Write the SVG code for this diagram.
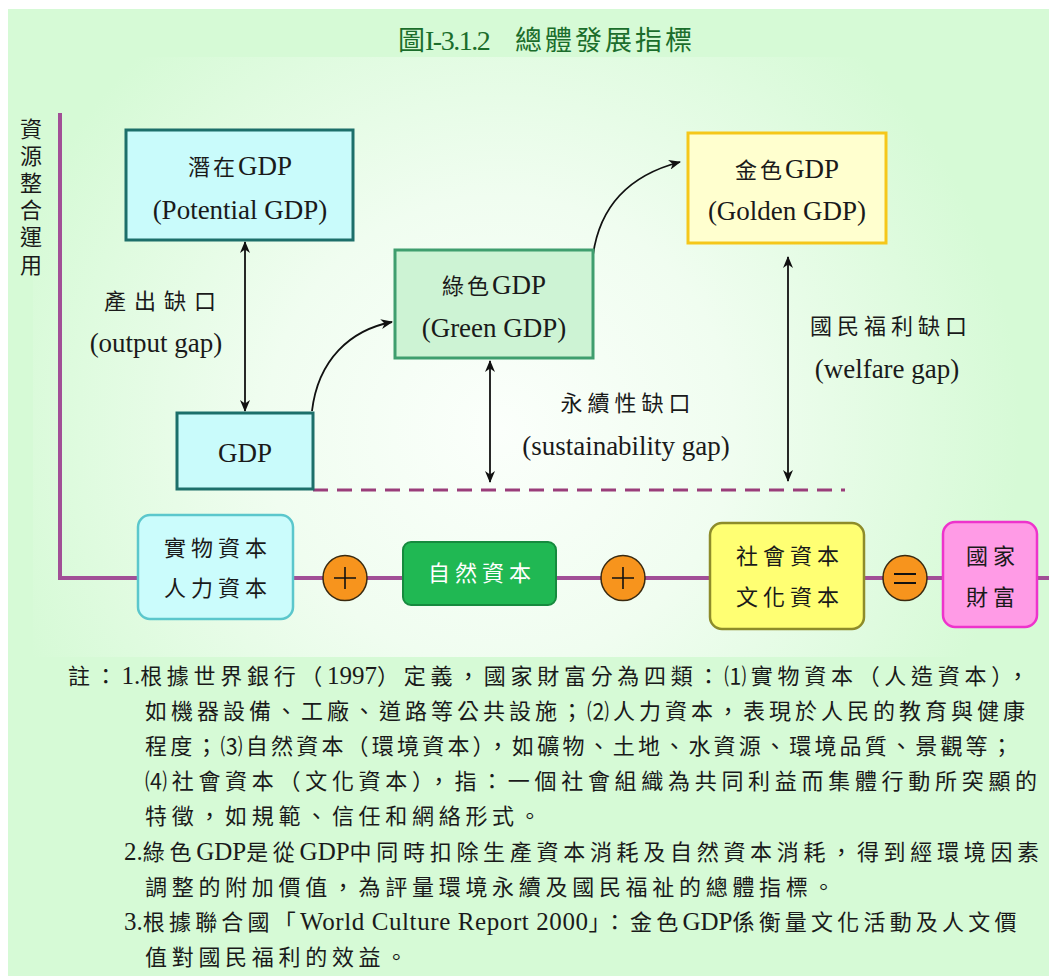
<svg xmlns="http://www.w3.org/2000/svg" width="1049" height="976" viewBox="0 0 1049 976">
<defs>
<radialGradient id="bg" cx="500" cy="430" r="520" gradientUnits="userSpaceOnUse">
<stop offset="0" stop-color="#fbfffb"/>
<stop offset="0.45" stop-color="#f0fdf0"/>
<stop offset="1" stop-color="#d6fad6"/>
</radialGradient>
<marker id="ah" viewBox="0 0 12 10" refX="11" refY="5" markerWidth="12" markerHeight="10" markerUnits="userSpaceOnUse" orient="auto-start-reverse">
<path d="M0,0 L12,5 L0,10 L3.5,5 z" fill="#111"/>
</marker>
<style>
.t{font-family:"Liberation Serif","Noto Sans CJK TC",serif;fill:#1a1a1a}
.cj{font-size:22px;letter-spacing:5px}
.lat{font-size:27px;letter-spacing:0}
.note{font-family:"Liberation Serif","Noto Sans CJK TC",serif;fill:#1a1a1a;font-size:22px;letter-spacing:4.7px}
.nl{font-size:25px;letter-spacing:0}
.box{stroke-width:3}
.pl{stroke:#111;stroke-width:1.6;fill:none}
.arr{stroke:#111;stroke-width:1.8;fill:none;marker-end:url(#ah)}
.darr{stroke:#111;stroke-width:1.8;fill:none;marker-end:url(#ah);marker-start:url(#ah)}
.circ{fill:#f7941d;stroke:#3a2a10;stroke-width:1.5}
</style>
</defs>
<rect x="0" y="0" width="1049" height="976" fill="#ffffff"/>
<rect x="8" y="9" width="1041" height="967" fill="#d6fad6"/>
<rect x="33" y="57" width="1016" height="600" fill="url(#bg)"/>

<g id="title">
<text class="t" y="50" style="fill:#1b6d2b"><tspan x="398" font-size="27">圖</tspan><tspan font-size="28" style="letter-spacing:-1.5px">I-3.1.2</tspan><tspan x="515" font-size="27" style="letter-spacing:3px">總體發展指標</tspan></text>
</g>

<g id="axis">
<path d="M60,113 V578 H1049" fill="none" stroke="#a14f96" stroke-width="4"/>
<text class="t" font-size="22" text-anchor="middle"><tspan x="31" y="137">資</tspan><tspan x="31" y="164">源</tspan><tspan x="31" y="191">整</tspan><tspan x="31" y="218">合</tspan><tspan x="31" y="245">運</tspan><tspan x="31" y="273">用</tspan></text>
</g>

<g id="connectors">
<line class="darr" x1="245" y1="242" x2="245" y2="411"/>
<line class="darr" x1="490" y1="361" x2="490" y2="482"/>
<line class="darr" x1="788" y1="257" x2="788" y2="481"/>
<path class="arr" d="M312,411 C318,360 350,330 392,322"/>
<path class="arr" d="M593,255 C600,205 630,175 680,162"/>
<line x1="313" y1="490" x2="845" y2="490" stroke="#9a3d7a" stroke-width="3" stroke-dasharray="15 9"/>
</g>

<g id="potential">
<rect class="box" x="126" y="130" width="227" height="110" fill="#c9fbfb" stroke="#1c6f6a"/>
<text class="t" x="240" y="175" text-anchor="middle"><tspan class="cj" style="letter-spacing:3px">潛在</tspan><tspan class="lat">GDP</tspan></text>
<text class="t lat" x="240" y="219" text-anchor="middle">(Potential GDP)</text>
</g>

<g id="gdp">
<rect class="box" x="177" y="413" width="136" height="76" fill="#c9fbfb" stroke="#1c6f6a"/>
<text class="t lat" x="245" y="462" text-anchor="middle">GDP</text>
</g>

<g id="green-gdp">
<rect class="box" x="395" y="250" width="198" height="108" fill="#cdf3d4" stroke="#3f9e6e"/>
<text class="t" x="494" y="294" text-anchor="middle"><tspan class="cj" style="letter-spacing:3px">綠色</tspan><tspan class="lat">GDP</tspan></text>
<text class="t lat" x="494" y="337" text-anchor="middle">(Green GDP)</text>
</g>

<g id="golden-gdp">
<rect class="box" x="688" y="133" width="198" height="110" fill="#ffffcf" stroke="#f5c71a"/>
<text class="t" x="787" y="178" text-anchor="middle"><tspan class="cj" style="letter-spacing:3px">金色</tspan><tspan class="lat">GDP</tspan></text>
<text class="t lat" x="787" y="220" text-anchor="middle">(Golden GDP)</text>
</g>

<g id="output-gap">
<text class="t cj" x="164" y="309" text-anchor="middle" style="letter-spacing:8px">產出缺口</text>
<text class="t lat" x="156" y="352" text-anchor="middle">(output gap)</text>
</g>

<g id="sustainability-gap">
<text class="t cj" x="628" y="411" text-anchor="middle">永續性缺口</text>
<text class="t lat" x="626" y="455" text-anchor="middle">(sustainability gap)</text>
</g>

<g id="welfare-gap">
<text class="t cj" x="891" y="334" text-anchor="middle">國民福利缺口</text>
<text class="t lat" x="887" y="378" text-anchor="middle">(welfare gap)</text>
</g>

<g id="physical-human-capital">
<rect x="138" y="515" width="155" height="104" rx="12" fill="#cbfcfc" stroke="#5bc7cc" stroke-width="2.5"/>
<text class="t cj" x="218" y="556" text-anchor="middle">實物資本</text>
<text class="t cj" x="218" y="596" text-anchor="middle">人力資本</text>
</g>

<g id="plus1">
<ellipse class="circ" cx="345" cy="578" rx="22" ry="22.5"/>
<path class="pl" d="M334,578 H356 M345,567 V589"/>
</g>

<g id="natural-capital">
<rect x="403" y="542" width="153" height="63" rx="8" fill="#20b853" stroke="#168a3e" stroke-width="2"/>
<text class="t cj" x="482" y="581" text-anchor="middle" style="fill:#ffffff">自然資本</text>
</g>

<g id="plus2">
<ellipse class="circ" cx="623" cy="578" rx="22" ry="22.5"/>
<path class="pl" d="M612,578 H634 M623,567 V589"/>
</g>

<g id="social-cultural-capital">
<rect x="710" y="523" width="154" height="106" rx="12" fill="#ffff73" stroke="#8e8c2a" stroke-width="2.5"/>
<text class="t cj" x="790" y="564" text-anchor="middle">社會資本</text>
<text class="t cj" x="790" y="605" text-anchor="middle">文化資本</text>
</g>

<g id="equals">
<ellipse class="circ" cx="905" cy="578" rx="22" ry="22.5"/>
<path d="M894,574 H916 M894,583 H916" stroke="#111" stroke-width="2.2" fill="none"/>
</g>

<g id="national-wealth">
<rect x="943" y="522" width="94" height="105" rx="12" fill="#ff9be6" stroke="#ee33cc" stroke-width="2.5"/>
<text class="t cj" x="993" y="564" text-anchor="middle">國家</text>
<text class="t cj" x="993" y="605" text-anchor="middle">財富</text>
</g>

<g id="notes">
<text class="note" x="68" y="684">註：<tspan class="nl">1.</tspan>根據世界銀行（<tspan class="nl">1997</tspan>）定義，國家財富分為四類：⑴實物資本（人造資本），</text>
<text class="note" x="145" y="719" style="letter-spacing:4px">如機器設備、工廠、道路等公共設施；⑵人力資本，表現於人民的教育與健康</text>
<text class="note" x="145" y="754" style="letter-spacing:3.2px">程度；⑶自然資本（環境資本），如礦物、土地、水資源、環境品質、景觀等；</text>
<text class="note" x="145" y="789">⑷社會資本（文化資本），指：一個社會組織為共同利益而集體行動所突顯的</text>
<text class="note" x="145" y="824">特徵，如規範、信任和網絡形式。</text>
<text class="note" x="124" y="860"><tspan class="nl">2.</tspan>綠色<tspan class="nl">GDP</tspan>是從<tspan class="nl">GDP</tspan>中同時扣除生產資本消耗及自然資本消耗，得到經環境因素</text>
<text class="note" x="145" y="895">調整的附加價值，為評量環境永續及國民福祉的總體指標。</text>
<text class="note" x="124" y="930" style="letter-spacing:4.2px"><tspan class="nl">3.</tspan>根據聯合國「<tspan class="nl" style="letter-spacing:0.6px">World Culture Report 2000</tspan>」：金色<tspan class="nl">GDP</tspan>係衡量文化活動及人文價</text>
<text class="note" x="145" y="965">值對國民福利的效益。</text>
</g>
</svg>
